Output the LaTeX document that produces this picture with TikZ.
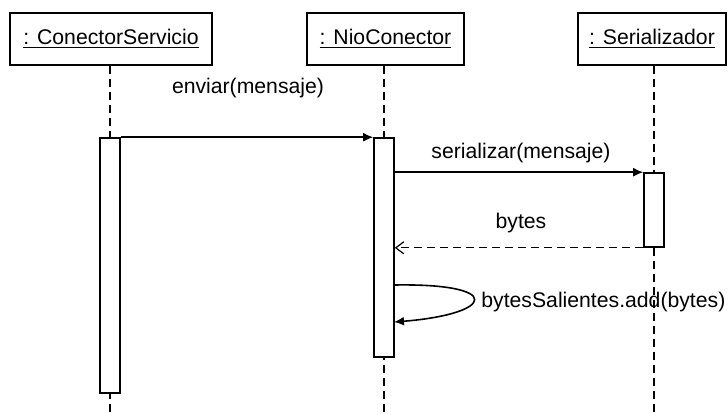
\documentclass[tikz,border=0pt]{standalone}
\usepackage{fontspec}
\setmainfont{Liberation Sans}
\usetikzlibrary{arrows.meta}

\begin{document}
\begin{tikzpicture}[x=0.5pt,y=-0.5pt,
	font=\fontsize{10.6}{12}\selectfont,
	obj/.style={draw,line width=0.8pt,minimum height=26pt,inner sep=0pt},
	act/.style={draw,line width=0.8pt,fill=white,minimum width=10pt,inner sep=0pt},
	life/.style={line width=0.8pt,dash pattern=on 4pt off 2.5pt},
	msg/.style={line width=0.8pt,-{Latex[length=5pt,width=4.5pt]}},
	ret/.style={line width=0.6pt,dash pattern=on 4pt off 2.5pt,-{Straight Barb[length=4pt,width=6pt]}}]
	\useasboundingbox (0,0) rectangle (728,414);
	\node[obj,minimum width=101pt] (cs) at (111,39) {\underline{: ConectorServicio}};
	\node[obj,minimum width=78.5pt] (nc) at (385.5,39) {\underline{: NioConector}};
	\node[obj,minimum width=74pt] (ser) at (652,39) {\underline{: Serializador}};
	\coordinate (e1) at (110,414);
	\coordinate (e2) at (384,414);
	\coordinate (e3) at (654,414);
	\draw [life] (cs.south -| e1) -- (e1);
	\draw [life] (nc.south -| e2) -- (e2);
	\draw [life] (ser.south -| e3) -- (e3);
	\node[act,minimum height=127.5pt] (act1) at (110,265.5){};
	\node[act,minimum height=109.5pt] (act2) at (384,247.5){};
	\node[act,minimum height=37pt] (act3) at (654,210){};
	\node (l1) at (248,88){enviar(mensaje)};
	\node (l2) at (521,153){serializar(mensaje)};
	\node (l3) at (521,223){bytes};
	\node[anchor=west,inner sep=0pt] (l4) at (481,302){bytesSalientes.add(bytes)};
	\coordinate (s1) at (394,285);
	\coordinate (s2) at (394,322);
	\draw [msg] (act1.north east) -- (act2.north west);
	\draw [msg] (act2.east |- act3.north) -- (act3.north west);
	\draw [ret] (act3.south west) -- (act2.east |- act3.south);
	\draw [msg] (s1) .. controls (505,283) and (495,314) .. (s2);
\end{tikzpicture}
\end{document}
